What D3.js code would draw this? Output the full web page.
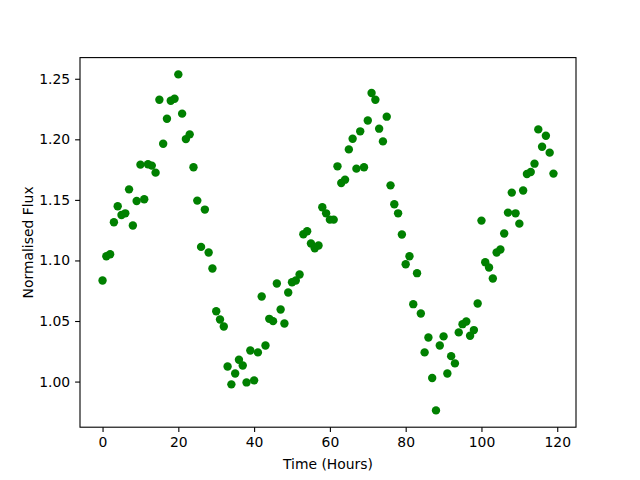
<!DOCTYPE html>
<html>
<head>
<meta charset="utf-8">
<script src="https://cdn.jsdelivr.net/npm/d3@7"></script>
<style>
  body { margin: 0; background: #fff; }
  svg { display: block; }
  text { font-family: "DejaVu Sans", sans-serif; }
</style>
</head>
<body>
<svg id="chart" width="640" height="480"></svg>
<script>
const hours = d3.range(0, 120);
const flux = [
  1.0834, 1.1035, 1.1051, 1.1315, 1.1447, 1.1375, 1.1389, 1.1587, 1.1288, 1.1491,
  1.1791, 1.1505, 1.1794, 1.1783, 1.1725, 1.2327, 1.1964, 1.2170, 1.2319, 1.2335,
  1.2536, 1.2212, 1.2002, 1.2041, 1.1769, 1.1494, 1.1112, 1.1420, 1.1065, 1.0933,
  1.0581, 1.0513, 1.0455, 1.0125, 0.9977, 1.0067, 1.0180, 1.0133, 0.9993, 1.0257,
  1.0010, 1.0241, 1.0702, 1.0298, 1.0518, 1.0499, 1.0810, 1.0595, 1.0480, 1.0735,
  1.0820, 1.0834, 1.0884, 1.1216, 1.1241, 1.1140, 1.1101, 1.1123, 1.1439, 1.1389,
  1.1337, 1.1337, 1.1777, 1.1639, 1.1667, 1.1917, 1.2005, 1.1758, 1.2066, 1.1769,
  1.2156, 1.2382, 1.2327, 1.2088, 1.1983, 1.2187, 1.1620, 1.1464, 1.1389, 1.1214,
  1.0969, 1.1035, 1.0639, 1.0895, 1.0562, 1.0241, 1.0364, 1.0029, 0.9762, 1.0298,
  1.0373, 1.0067, 1.0210, 1.0150, 1.0406, 1.0474, 1.0496, 1.0378, 1.0425, 1.0645,
  1.1329, 1.0985, 1.0942, 1.0851, 1.1065, 1.1090, 1.1222, 1.1395, 1.1560, 1.1389,
  1.1304, 1.1577, 1.1714, 1.1730, 1.1799, 1.2082, 1.1939, 1.2030, 1.1890, 1.1717
];
const xTicks = [0, 20, 40, 60, 80, 100, 120];
const yTicks = [1.00, 1.05, 1.10, 1.15, 1.20, 1.25];
const xLabel = "Time (Hours)";
const yLabel = "Normalised Flux";

const data = hours.map((h, i) => ({ x: h, y: flux[i] }));

const pL = 80, pR = 576, pT = 57.6, pB = 427.2;
const svg = d3.select("#chart");

function padded(ext) {
  const r = ext[1] - ext[0];
  return [ext[0] - 0.05 * r, ext[1] + 0.05 * r];
}
const x = d3.scaleLinear().domain(padded(d3.extent(hours))).range([pL, pR]);
const y = d3.scaleLinear().domain(padded(d3.extent(flux))).range([pB, pT]);

// points
svg.append("g").selectAll("circle").data(data).join("circle")
  .attr("cx", d => x(d.x))
  .attr("cy", d => y(d.y))
  .attr("r", 4.2)
  .attr("fill", "#008000");

// frame
svg.append("rect")
  .attr("x", pL).attr("y", pT)
  .attr("width", pR - pL).attr("height", pB - pT)
  .attr("fill", "none").attr("stroke", "#000").attr("stroke-width", 1.1);

const xAxis = svg.append("g")
  .attr("transform", `translate(0,${pB})`)
  .call(d3.axisBottom(x).tickValues(xTicks).tickSize(4.9).tickPadding(4.9).tickFormat(d3.format("d")));
const yAxis = svg.append("g")
  .attr("transform", `translate(${pL},0)`)
  .call(d3.axisLeft(y).tickValues(yTicks).tickSize(4.9).tickPadding(4.9).tickFormat(d3.format(".2f")));

[xAxis, yAxis].forEach(g => {
  g.select(".domain").remove();
  g.selectAll(".tick line").attr("stroke", "#000").attr("stroke-width", 1.1);
  g.selectAll(".tick text").attr("fill", "#000")
    .style("font-family", "'DejaVu Sans', sans-serif").style("font-size", "13.9px");
});

svg.append("text")
  .attr("x", (pL + pR) / 2).attr("y", 469)
  .attr("text-anchor", "middle")
  .style("font-size", "13.9px").attr("fill", "#000")
  .text(xLabel);

svg.append("text")
  .attr("transform", `translate(33,${(pT + pB) / 2}) rotate(-90)`)
  .attr("text-anchor", "middle")
  .style("font-size", "13.9px").attr("fill", "#000")
  .text(yLabel);
</script>
</body>
</html>
